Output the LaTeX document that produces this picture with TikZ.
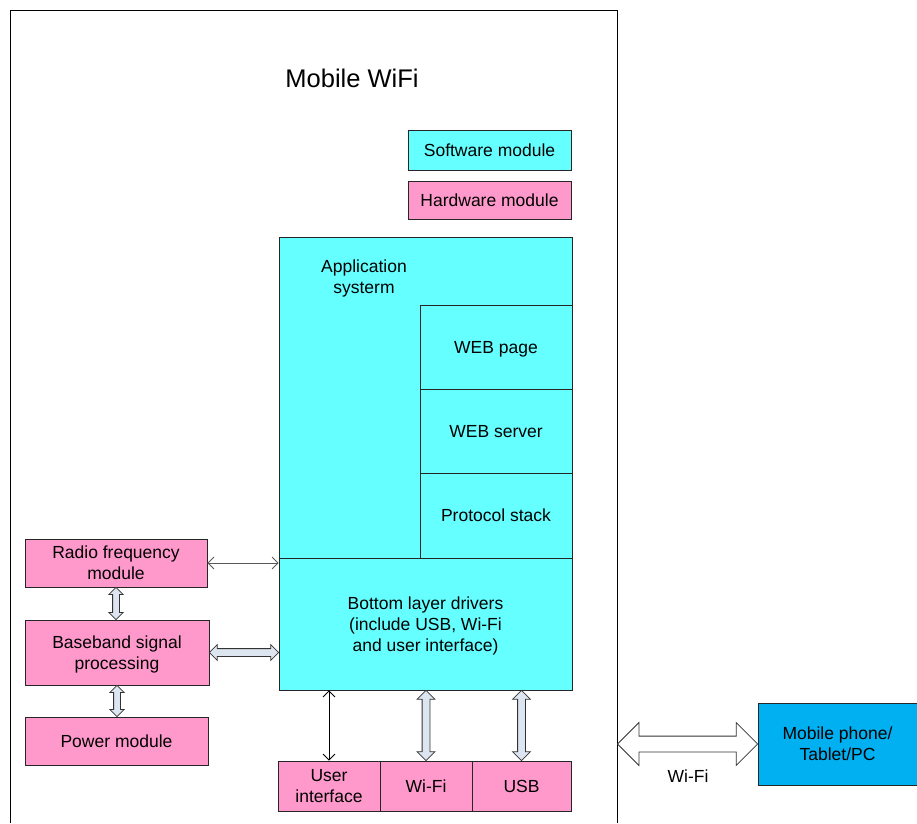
\documentclass[tikz,border=0pt]{standalone}
\usepackage{fontspec}
\setmainfont{Liberation Sans}
\usetikzlibrary{shapes.arrows,calc,arrows.meta}
\definecolor{swc}{HTML}{66FFFF}
\definecolor{hwc}{HTML}{FF99CC}
\definecolor{devc}{HTML}{00B0F0}
\definecolor{arrc}{HTML}{DDE5F1}
\newcommand\fatarr[4]{%
  \path let \p1=#2, \p2=#3, \n1={veclen(\x2-\x1,\y2-\y1)}, \n2={atan2(\y2-\y1,\x2-\x1)} in
    node[#4, rotate=\n2, minimum height=\n1] (#1) at ($#2!0.5!#3$) {};}
\begin{document}
\begin{tikzpicture}[x=1pt,y=-1pt,
  every node/.style={font=\fontsize{17.5}{21}\selectfont},
  box/.style={draw=black!85, line width=0.8pt, inner sep=0pt, align=center, text depth=0pt},
  sw/.style={box, fill=swc},
  hw/.style={box, fill=hwc},
  thinarr/.style={{Straight Barb[length=6pt,width=12pt]}-{Straight Barb[length=6pt,width=12pt]}, line width=0.8pt},
  fatbase/.style={double arrow, draw=black!80, line width=0.8pt, inner xsep=0pt, minimum width=0pt, font=\tiny},
  fat/.style 2 args={fatbase, fill=arrc, inner ysep=#2/2, double arrow head extend=#1/2-#2/2}]
\useasboundingbox (0,0) rectangle (917,823);
% frame
\coordinate (f1) at (10,823);
\coordinate (f2) at (10,10);
\coordinate (f3) at (617,10);
\coordinate (f4) at (617,823);
\draw[line width=0.8pt] (f1) -- (f2) -- (f3) -- (f4);
\node[font=\fontsize{25.5}{30}\selectfont] (title) at (352,78) {Mobile WiFi};
% legend
\node[sw, minimum width=163pt, minimum height=40pt] (soft) at (489.5,150.5) {Software module};
\node[hw, minimum width=163pt, minimum height=38pt] (hard) at (489.5,200) {Hardware module};
% software stack
\node[sw, minimum width=293pt, minimum height=321pt] (app) at (425.5,397.5) {};
\node[align=center, text depth=0pt] (apptext) at (364,277) {Application\\systerm};
\node[sw, minimum width=152pt, minimum height=84pt] (webpage) at (496,347) {WEB page};
\node[sw, minimum width=152pt, minimum height=84pt] (webserver) at (496,431) {WEB server};
\node[sw, minimum width=152pt, minimum height=85pt] (proto) at (496,515.5) {Protocol stack};
\node[sw, minimum width=293pt, minimum height=132pt] (bottom) at (425.5,624) {Bottom layer drivers\\(include USB, Wi-Fi\\and user interface)};
% hardware
\node[hw, minimum width=182pt, minimum height=48pt] (rf) at (116,563) {Radio frequency\\module};
\node[hw, minimum width=184pt, minimum height=65pt] (bb) at (117,652.5) {Baseband signal\\processing};
\node[hw, minimum width=183pt, minimum height=48pt] (pw) at (116.5,741) {Power module};
\node[hw, minimum width=102pt, minimum height=50pt] (ui) at (329,786) {User\\interface};
\node[hw, minimum width=92pt, minimum height=50pt] (wifi) at (426,786) {Wi-Fi};
\node[hw, minimum width=99pt, minimum height=50pt] (usb) at (521.5,786) {USB};
% device
\node[box, fill=devc, minimum width=159pt, minimum height=82pt] (mob) at (837.5,744) {Mobile phone/\\Tablet/PC};
\coordinate (wl) at (617.5,744);
% connectors
\draw[thinarr, draw=black!65] (rf.east) -- (rf.east -| bottom.west);
\draw[thinarr] (ui.north) -- (ui.north |- bottom.south);
\fatarr{a1}{(rf.south)}{(rf.south |- bb.north)}{fat={13.5pt}{6pt}}
\fatarr{a2}{(bb.south)}{(bb.south |- pw.north)}{fat={13.5pt}{6pt}}
\fatarr{a3}{(bb.east)}{(bb.east -| bottom.west)}{fat={15pt}{7pt}}
\fatarr{a4}{(wifi.north)}{(wifi.north |- bottom.south)}{fat={17pt}{7pt}}
\fatarr{a5}{(usb.north)}{(usb.north |- bottom.south)}{fat={17pt}{7pt}}
\fatarr{a6}{(wl)}{(mob.west)}{fatbase, fill=white, inner ysep=7.5pt, double arrow head extend=13.5pt}
\node (wifilbl) at (688,776) {Wi-Fi};
\end{tikzpicture}
\end{document}
